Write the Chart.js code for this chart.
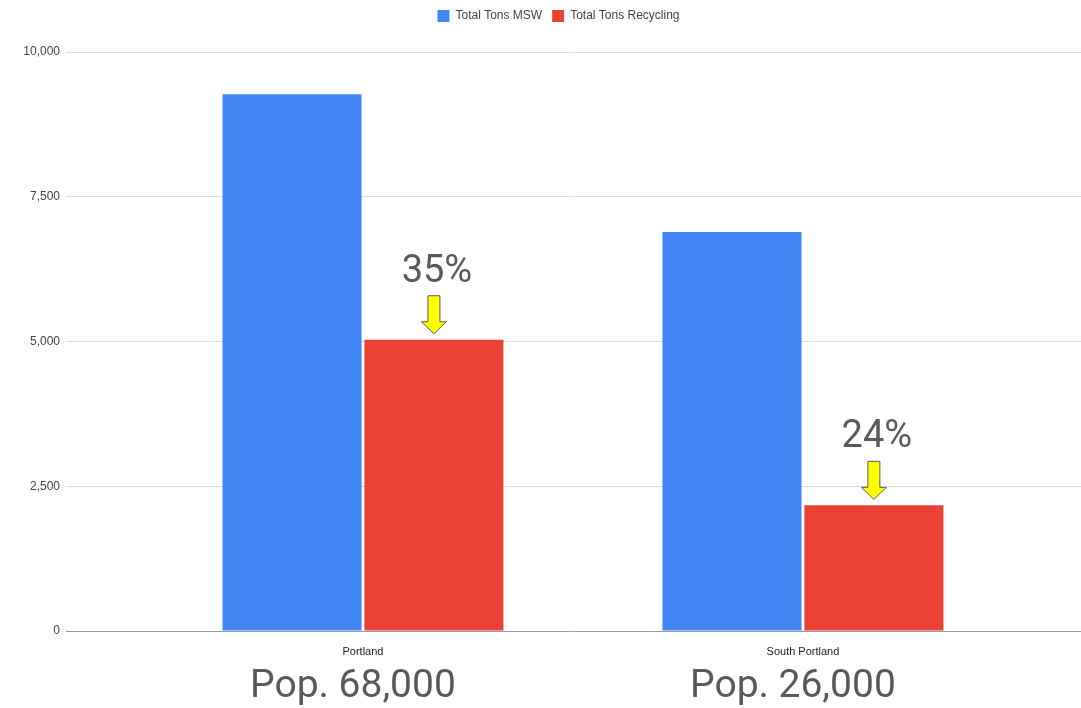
<!DOCTYPE html>
<html>
<head>
<meta charset="utf-8">
<title>MSW vs Recycling</title>
<script src="https://cdn.jsdelivr.net/npm/chart.js@4"></script>
<style>
  html, body { margin: 0; padding: 0; background: #ffffff; }
  #wrap { width: 1081px; height: 708px; position: relative; }
</style>
</head>
<body>
<div id="wrap"><canvas id="chart"></canvas></div>
<script>
// Categories and series
const categories = ['Portland', 'South Portland'];
const seriesNames = ['Total Tons MSW', 'Total Tons Recycling'];
const mswTons = [9270, 6890];
const recyclingTons = [5030, 2170];
const recyclingRateLabels = ['35%', '24%'];
const populationLabels = ['Pop. 68,000', 'Pop. 26,000'];
const yTickValues = [0, 2500, 5000, 7500, 10000];

const BLUE = '#4285F4';
const RED = '#EA4335';

Chart.defaults.font.family = 'Arial, "Liberation Sans", sans-serif';

// Legend tweaks: extra room below the legend row, and a slight shift to the right
const legendTweak = {
  id: 'legendTweak',
  afterInit(chart) {
    const legend = chart.legend;
    if (!legend) return;
    const baseFit = legend.fit.bind(legend);
    legend.fit = function () {
      baseFit();
      this.height += 20;
      if (this.lineWidths) this.lineWidths = this.lineWidths.map(w => w - 36);
    };
  }
};

// Recycling-rate callouts above the red bars and population captions under each group
const callouts = {
  id: 'callouts',
  afterDatasetsDraw(chart) {
    const { ctx } = chart;
    const xs = chart.scales.x;
    const bars = chart.getDatasetMeta(1).data;
    ctx.save();
    bars.forEach((bar, i) => {
      const cx = bar.x;
      const tip = bar.y - 6;
      const top = tip - 38;
      ctx.beginPath();
      ctx.moveTo(cx - 6, top);
      ctx.lineTo(cx + 6, top);
      ctx.lineTo(cx + 6, top + 26);
      ctx.lineTo(cx + 12.5, top + 26);
      ctx.lineTo(cx, tip);
      ctx.lineTo(cx - 12.5, top + 26);
      ctx.lineTo(cx - 6, top + 26);
      ctx.closePath();
      ctx.fillStyle = '#ffff00';
      ctx.fill();
      ctx.lineWidth = 1;
      ctx.strokeStyle = '#5a5a5a';
      ctx.stroke();

      ctx.font = '38px Roboto, "Liberation Sans", sans-serif';
      ctx.fillStyle = '#595959';
      ctx.textAlign = 'center';
      ctx.textBaseline = 'alphabetic';
      ctx.fillText(recyclingRateLabels[i], cx + 3, top - 14);
    });

    ctx.font = '39px Roboto, "Liberation Sans", sans-serif';
    ctx.fillStyle = '#595959';
    ctx.textAlign = 'center';
    ctx.textBaseline = 'alphabetic';
    categories.forEach((_, i) => {
      ctx.fillText(populationLabels[i], xs.getPixelForValue(i) - 10, 697);
    });
    ctx.restore();
  }
};

new Chart(document.getElementById('chart'), {
  type: 'bar',
  data: {
    datasets: [
      {
        label: seriesNames[0],
        data: categories.map((_, i) => ({ x: i, y: mswTons[i] })),
        backgroundColor: BLUE,
        borderWidth: 0
      },
      {
        label: seriesNames[1],
        data: categories.map((_, i) => ({ x: i, y: recyclingTons[i] })),
        backgroundColor: RED,
        borderWidth: 0
      }
    ]
  },
  options: {
    responsive: true,
    maintainAspectRatio: false,
    animation: false,
    categoryPercentage: 0.645,
    barPercentage: 0.98,
    layout: { padding: { top: 0, right: 0, bottom: 0, left: 0 } },
    plugins: {
      legend: {
        position: 'top',
        labels: {
          boxWidth: 12,
          boxHeight: 12,
          padding: 10,
          color: '#444444',
          font: { size: 12 }
        }
      },
      tooltip: { enabled: false }
    },
    scales: {
      x: {
        type: 'linear',
        min: -0.675,
        max: 1.632,
        offset: false,
        grid: { display: false },
        border: { display: false },
        afterBuildTicks(scale) {
          scale.ticks = categories.map((_, i) => ({ value: i }));
        },
        afterFit(scale) { scale.height = 77; },
        ticks: {
          autoSkip: false,
          maxRotation: 0,
          padding: 6,
          color: '#222222',
          font: { size: 11 },
          callback: v => categories[v] ?? ''
        }
      },
      y: {
        min: 0,
        max: 10000,
        border: { display: false },
        afterBuildTicks(scale) {
          scale.ticks = yTickValues.map(v => ({ value: v }));
        },
        afterFit(scale) { scale.width = 66; },
        grid: {
          drawTicks: false,
          lineWidth: 1,
          color: c => (c.tick && c.tick.value === 0 ? '#9a9a9a' : '#dcdcdc')
        },
        ticks: {
          padding: 6,
          color: '#444444',
          font: { size: 12 },
          callback: v => Number(v).toLocaleString('en-US')
        }
      }
    }
  },
  plugins: [legendTweak, callouts]
});
</script>
</body>
</html>
